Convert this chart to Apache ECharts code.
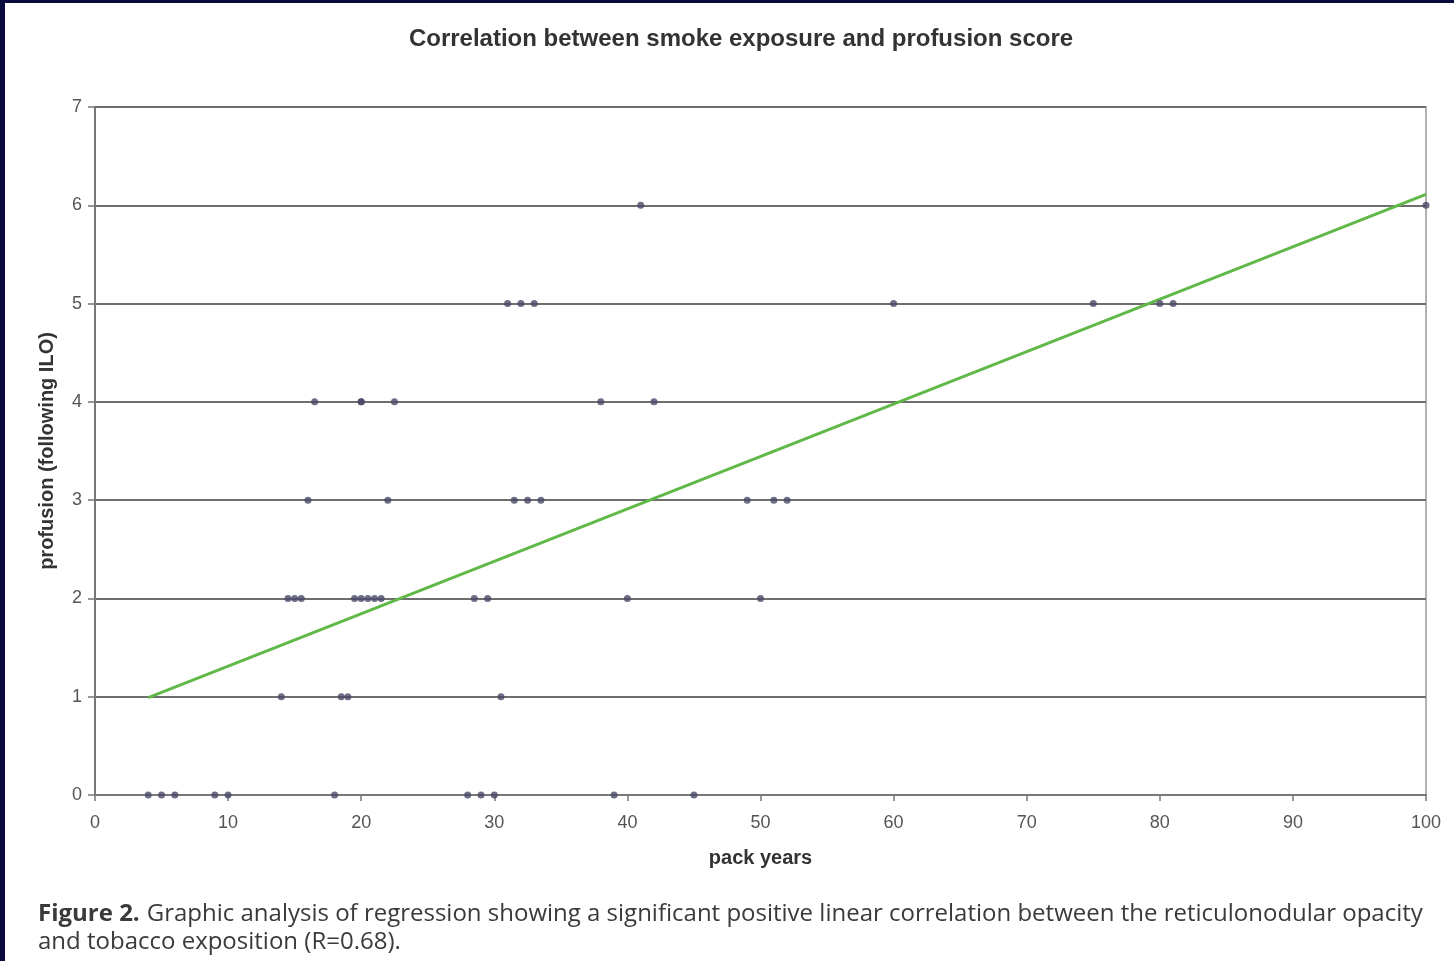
<!DOCTYPE html>
<html>
<head>
<meta charset="utf-8">
<script src="https://cdn.jsdelivr.net/npm/echarts@6/dist/echarts.min.js"></script>
<style>
html,body{margin:0;padding:0;background:#0b0a3e;}
#chart{width:1454px;height:961px;}
</style>
</head>
<body>
<div id="chart"></div>
<script>
// pack years by profusion score (following ILO)
const score0 = [4, 5, 6, 9, 10, 18, 28, 29, 30, 39, 45];
const score1 = [14, 18.5, 19, 30.5];
const score2 = [14.5, 15, 15.5, 19.5, 20, 20.5, 21, 21.5, 28.5, 29.5, 40, 50];
const score3 = [16, 22, 31.5, 32.5, 33.5, 49, 51, 52];
const score4 = [16.5, 20, 20, 22.5, 38, 42];
const score5 = [31, 32, 33, 60, 75, 80, 81];
const score6 = [41, 100];
const trendX = [4, 100];
const trendY = [0.99, 6.11];
const xTicks = [0, 10, 20, 30, 40, 50, 60, 70, 80, 90, 100];
const yTicks = [0, 1, 2, 3, 4, 5, 6, 7];

const groups = [score0, score1, score2, score3, score4, score5, score6];
const points = [];
groups.forEach((g, s) => g.forEach(x => points.push([x, s])));

const chart = echarts.init(document.getElementById('chart'));
chart.setOption({
  backgroundColor: '#0b0a3e',
  animation: false,
  graphic: [
    {type: 'rect', z: -10, silent: true, shape: {x: 5, y: 3, width: 1449, height: 958}, style: {fill: '#ffffff'}},
    {type: 'text', left: 38, top: 900, z: 10, style: {
      rich: {
        b: {fontFamily: 'Open Sans', fontSize: 24, fontWeight: 'bold', fill: '#3a3a3a', padding: [0, 7, 0, 0]},
        n: {fontFamily: 'Open Sans', fontSize: 24, fill: '#3a3a3a'}
      },
      text: '{b|Figure 2.}{n|Graphic analysis of regression showing a significant positive linear correlation between the reticulonodular opacity}\n{n|and tobacco exposition (R=0.68).}',
      lineHeight: 28
    }}
  ],
  title: {
    text: 'Correlation between smoke exposure and profusion score',
    left: 736, top: 22, textAlign: 'center',
    textStyle: {fontFamily: 'Liberation Sans', fontSize: 24, fontWeight: 'bold', color: '#333'}
  },
  grid: {left: 95, right: 28, top: 107, bottom: 166, show: true, borderColor: '#999', borderWidth: 1.5},
  xAxis: {
    type: 'value', min: 0, max: 100, interval: 10,
    name: 'pack years', nameLocation: 'middle', nameGap: 53,
    nameTextStyle: {fontFamily: 'Liberation Sans', fontSize: 20, fontWeight: 'bold', color: '#333'},
    axisLine: {show: true, lineStyle: {color: '#777', width: 2}},
    axisTick: {show: true, length: 6, lineStyle: {color: '#777', width: 1.5}},
    axisLabel: {fontFamily: 'Liberation Sans', fontSize: 18, color: '#555', margin: 19,
      formatter: v => xTicks.includes(v) ? String(v) : ''},
    splitLine: {show: false}
  },
  yAxis: {
    type: 'value', min: 0, max: 7, interval: 1,
    name: 'profusion (following ILO)', nameLocation: 'middle', nameGap: 38,
    nameTextStyle: {fontFamily: 'Liberation Sans', fontSize: 20, fontWeight: 'bold', color: '#333'},
    axisLine: {show: true, lineStyle: {color: '#777', width: 2}},
    axisTick: {show: true, length: 7, lineStyle: {color: '#777', width: 1.5}},
    axisLabel: {fontFamily: 'Liberation Sans', fontSize: 18, color: '#555', margin: 13,
      formatter: v => yTicks.includes(v) ? String(v) : ''},
    splitLine: {show: true, lineStyle: {color: '#6e6e6e', width: 2}}
  },
  series: [
    {
      type: 'line', data: trendX.map((x, i) => [x, trendY[i]]),
      showSymbol: false, z: 3,
      lineStyle: {color: '#5fb847', width: 3}
    },
    {
      type: 'scatter', data: points, symbolSize: 7, z: 4,
      itemStyle: {color: '#4a4868'}
    }
  ]
});
</script>
</body>
</html>
